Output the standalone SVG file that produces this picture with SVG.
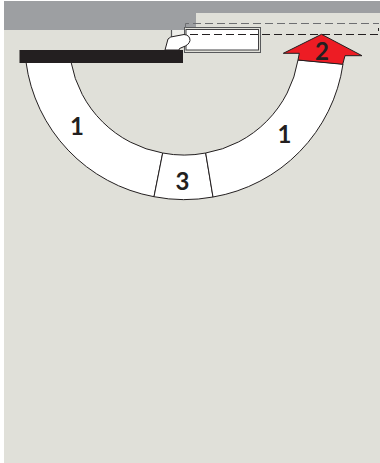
<svg xmlns="http://www.w3.org/2000/svg" width="380" height="463" viewBox="0 0 380 463">
<style>
.seg{fill:#fff;stroke:#231f20;stroke-width:1}
.num{font-family:"Lato","Open Sans",sans-serif;font-weight:700;font-size:24px;fill:#231f20;text-anchor:middle}
.dash{fill:none;stroke-width:1;stroke-dasharray:8 4}
</style>
<rect width="380" height="463" fill="#fff"/>
<rect x="4" y="1" width="376" height="462" fill="#e0e0d9"/>
<path d="M4 1H380V13H196V30H4Z" fill="#9d9fa2"/>
<g id="housing">
<rect x="171" y="30" width="14" height="8" fill="#eeeeea"/>
<path d="M171.500 30V38" stroke="#58595b" stroke-width="1.200" fill="none"/>
<rect x="184.500" y="27.500" width="76" height="25" fill="#e0e0d9" stroke="#58595b" stroke-width="1"/>
<rect x="186" y="29.500" width="72.500" height="20.500" fill="#fff" stroke="#414042" stroke-width="1"/>
<path d="M165 50L168 39Q169.500 36.500 176 36L184 34.500Q190 35 190 40.500Q189 45 183 47L179.500 48.500L179 50Z" fill="#fff" stroke="#231f20" stroke-width="1"/>
</g>
<g id="connectors">
<path class="dash" stroke="#6d6e71" d="M185.500 28V23.500H379"/>
<path class="dash" stroke="#231f20" d="M190 34.500H378.500V28"/>
</g>
<g id="arc-left">
<path class="seg" d="M26 62A158 158 0 0 0 154 196.700L162.700 153A113 113 0 0 1 71 62Z"/>
<text class="num" x="77" y="135">1</text>
</g>
<g id="arc-middle">
<path class="seg" d="M154 196.700A158 158 0 0 0 213 197L205.700 153A113 113 0 0 1 162.700 153Z"/>
<text class="num" x="182.500" y="190">3</text>
</g>
<g id="arc-right">
<path class="seg" d="M213 197A158 158 0 0 0 343 64L298 60A113 113 0 0 1 205.700 153Z"/>
<text class="num" x="284.500" y="143">1</text>
</g>
<g id="arrow">
<path d="M321.500 34.300L362 55.700L345 55.700L342.700 64.300L298 60L299.300 53.300L283.300 53.300Z" fill="#ed1c24" stroke="#231f20" stroke-width="1" stroke-linejoin="round"/>
<text class="num" x="322" y="60">2</text>
</g>
<g id="bar">
<rect x="19.500" y="50" width="163.500" height="13" fill="#231f20"/>
</g>
</svg>
